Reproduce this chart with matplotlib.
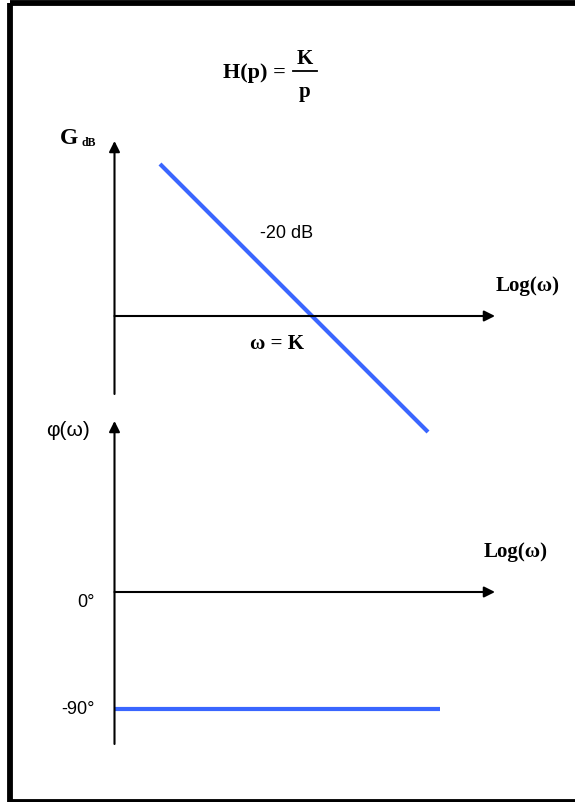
import matplotlib.pyplot as plt
from matplotlib.patches import Rectangle

# log10(w/K) in decades, and the asymptotic values
gain_logw = [-1.52, 1.16]
gain_db = [30.4, -23.2]          # slope -20 dB / decade
phase_logw = [-1.98, 1.28]
phase_deg = [-90, -90]
phase_ticks = [0, -90]
phase_tick_labels = ["0°", "-90°"]

serif = "Liberation Serif"
sans = "Liberation Sans"
blue = "#3a66ff"

W, H = 575, 803
fig = plt.figure(figsize=(W / 100, H / 100), dpi=100)

# page frame + labels drawn in pixel units
ax0 = fig.add_axes([0, 0, 1, 1])
ax0.set_xlim(0, W)
ax0.set_ylim(H, 0)
ax0.axis("off")
ax0.add_patch(Rectangle((9.5, 3.5), 900, 799, fill=False, lw=4.2, ec="black"))


def make_axes(px_left, px_right, px_top, px_bottom):
    return fig.add_axes([px_left / W, 1 - px_bottom / H,
                         (px_right - px_left) / W, (px_bottom - px_top) / H])


# x mapping: pixel 312 = log(w/K) = 0, 100 px per decade
x0_px, px_dec = 312, 100
x_left, x_right = 114.5, 495
xlim = ((x_left - x0_px) / px_dec, (x_right - x0_px) / px_dec)

arrow = dict(arrowstyle="-|>", lw=1.5, color="black", mutation_scale=16,
             shrinkA=0, shrinkB=0)

# gain plot: 0 dB at pixel 317, 5 px per dB
g0_px, px_db = 317, 5
gtop, gbot = 142, 440
axg = make_axes(x_left, x_right, gtop, gbot)
axg.set_xlim(xlim)
axg.set_ylim(-(gbot - g0_px) / px_db, (g0_px - gtop) / px_db)
axg.axis("off")
axg.annotate("", xy=(xlim[0], (g0_px - gtop) / px_db),
             xytext=(xlim[0], -(395 - g0_px) / px_db), arrowprops=arrow)
axg.annotate("", xy=(xlim[1], 0), xytext=(xlim[0], 0), arrowprops=arrow)
axg.plot(gain_logw, gain_db, color=blue, lw=3, solid_capstyle="butt", clip_on=False)

# phase plot: 0 deg at pixel 593, 1.3 px per degree
p0_px, px_deg = 593, 1.3
ptop, pbot = 422, 745
axp = make_axes(x_left, x_right, ptop, pbot)
axp.set_xlim(xlim)
axp.set_ylim(-(pbot - p0_px) / px_deg, (p0_px - ptop) / px_deg)
axp.axis("off")
axp.annotate("", xy=(xlim[0], (p0_px - ptop) / px_deg),
             xytext=(xlim[0], -(pbot - p0_px) / px_deg), arrowprops=arrow)
axp.annotate("", xy=(xlim[1], 0), xytext=(xlim[0], 0), arrowprops=arrow)
axp.plot(phase_logw, phase_deg, color=blue, lw=3, solid_capstyle="butt", clip_on=False)
for v, lab in zip(phase_ticks, phase_tick_labels):
    off = -7 if v == 0 else 0
    axp.annotate(lab, xy=(xlim[0], v), xytext=(-14, off), textcoords="offset points",
                 ha="right", va="center", fontsize=13, family=sans)

# texts
ax0.text(254, 73, "H(p) =", fontsize=16, family=serif, weight="bold",
         ha="center", va="center")
ax0.plot([293, 317], [72, 72], color="black", lw=1.3)
ax0.text(305, 59, "K", fontsize=15, family=serif, weight="bold", ha="center", va="center")
ax0.text(305, 92, "p", fontsize=15, family=serif, weight="bold", ha="center", va="center")

ax0.text(69, 144, "G", fontsize=17, family=serif, weight="bold", ha="center", va="baseline")
ax0.text(89, 146, "dB", fontsize=8.5, family=serif, weight="bold", ha="center", va="baseline")
ax0.text(287, 234, "-20 dB", fontsize=13, family=sans, ha="center", va="center")
ax0.text(277, 344, "ω = K", fontsize=15, family=serif, weight="bold", ha="center", va="center")
ax0.text(528, 286, "Log(ω)", fontsize=15, family=serif, weight="bold", ha="center", va="center")
ax0.text(68, 431, "φ(ω)", fontsize=15, family=sans, ha="center", va="center")
ax0.text(516, 552, "Log(ω)", fontsize=15, family=serif, weight="bold", ha="center", va="center")

fig.savefig("out.png", dpi=100)
